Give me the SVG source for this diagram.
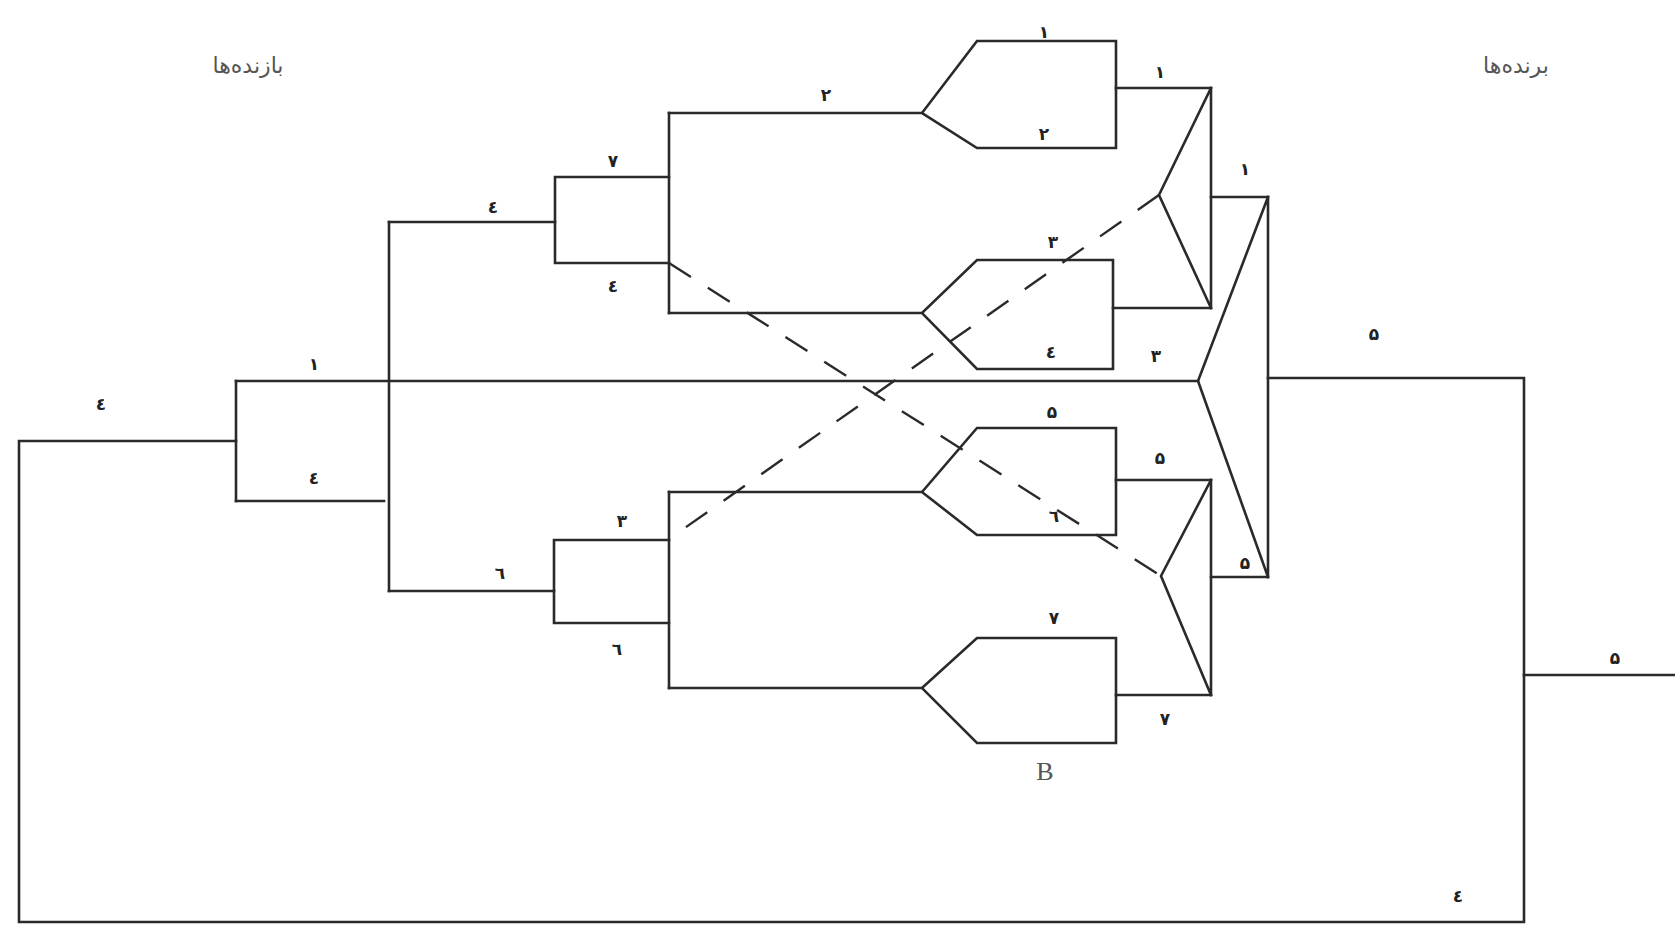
<svg xmlns="http://www.w3.org/2000/svg" width="1675" height="925" viewBox="0 0 1675 925">
<style>
.ln{fill:none;stroke:#2a2a2a;stroke-width:2.6;stroke-linejoin:miter;stroke-linecap:square}
.ds{fill:none;stroke:#2a2a2a;stroke-width:2.4;stroke-dasharray:26 20}
.lb{font-family:"DejaVu Sans",sans-serif;font-size:17px;font-weight:bold;fill:#222;text-anchor:middle}
.tt{font-family:"DejaVu Sans",sans-serif;font-size:22px;fill:#555;text-anchor:middle}
.b{font-family:"Liberation Serif",serif;font-size:26px;fill:#555;text-anchor:middle}
</style>
<rect width="1675" height="925" fill="#fff"/>
<g id="titles">
<text class="tt" x="248" y="73" direction="rtl">بازنده‌ها</text>
<text class="tt" x="1516" y="73" direction="rtl">برنده‌ها</text>
</g>
<g id="connectors">
<path class="ln" d="M236,441 H19 V922 H1524 V378 H1268"/>
<path class="ln" d="M1524,675 H1675"/>
<path class="ln" d="M236,381 H1198"/>
<path class="ln" d="M236,501 H384"/>
<path class="ln" d="M389,222 V591"/>
<path class="ln" d="M389,222 H555"/>
<path class="ln" d="M389,591 H554"/>
<path class="ln" d="M1116,88 H1211"/>
<path class="ln" d="M1113,308 H1211"/>
<path class="ln" d="M1211,197 H1268"/>
<path class="ln" d="M1116,480 H1211"/>
<path class="ln" d="M1116,695 H1211"/>
<path class="ln" d="M1211,577 H1268"/>
<path class="ds" d="M1159,195 L669,539"/>
<path class="ds" d="M669,263 L1161,576"/>
</g>
<g id="node-losers-final">
<path class="ln" d="M236,381 V501"/>
</g>
<g id="node-upper-semi">
<path class="ln" d="M669,177 H555 V263 H669"/>
<path class="ln" d="M669,113 V313"/>
</g>
<g id="node-lower-semi">
<path class="ln" d="M669,540 H554 V623 H669"/>
<path class="ln" d="M669,492 V688"/>
</g>
<g id="node-match-1-2">
<path class="ln" d="M669,113 H922 L977,41 H1116 V148 H977 L922,113"/>
</g>
<g id="node-match-3-4">
<path class="ln" d="M669,313 H922 L977,260 H1113 V369 H977 L922,313"/>
</g>
<g id="node-match-5-6">
<path class="ln" d="M669,492 H922 L977,428 H1116 V535 H977 L922,492"/>
</g>
<g id="node-match-7-B">
<path class="ln" d="M669,688 H922 L977,638 H1116 V743 H977 L922,688"/>
</g>
<g id="node-winners-upper">
<path class="ln" d="M1211,88 V308 M1211,88 L1159,195 L1211,308"/>
</g>
<g id="node-winners-lower">
<path class="ln" d="M1211,480 V695 M1211,480 L1161,576 L1211,695"/>
</g>
<g id="node-winners-final">
<path class="ln" d="M1268,197 V577 M1268,197 L1198,381 L1268,577"/>
</g>
<g id="labels">
<text class="lb" x="101" y="410">٤</text>
<text class="lb" x="314" y="370">۱</text>
<text class="lb" x="314" y="484">٤</text>
<text class="lb" x="493" y="213">٤</text>
<text class="lb" x="500" y="579">٦</text>
<text class="lb" x="613" y="167">۷</text>
<text class="lb" x="613" y="292">٤</text>
<text class="lb" x="622" y="527">۳</text>
<text class="lb" x="617" y="655">٦</text>
<text class="lb" x="826" y="101">۲</text>
<text class="lb" x="1044" y="38">۱</text>
<text class="lb" x="1044" y="140">۲</text>
<text class="lb" x="1053" y="248">۳</text>
<text class="lb" x="1051" y="358">٤</text>
<text class="lb" x="1052" y="418">۵</text>
<text class="lb" x="1054" y="522">٦</text>
<text class="lb" x="1054" y="624">۷</text>
<text class="b" x="1045" y="780">B</text>
<text class="lb" x="1160" y="78">۱</text>
<text class="lb" x="1156" y="362">۳</text>
<text class="lb" x="1160" y="464">۵</text>
<text class="lb" x="1165" y="725">۷</text>
<text class="lb" x="1245" y="175">۱</text>
<text class="lb" x="1245" y="569">۵</text>
<text class="lb" x="1374" y="340">۵</text>
<text class="lb" x="1615" y="664">۵</text>
<text class="lb" x="1458" y="902">٤</text>
</g>
</svg>
